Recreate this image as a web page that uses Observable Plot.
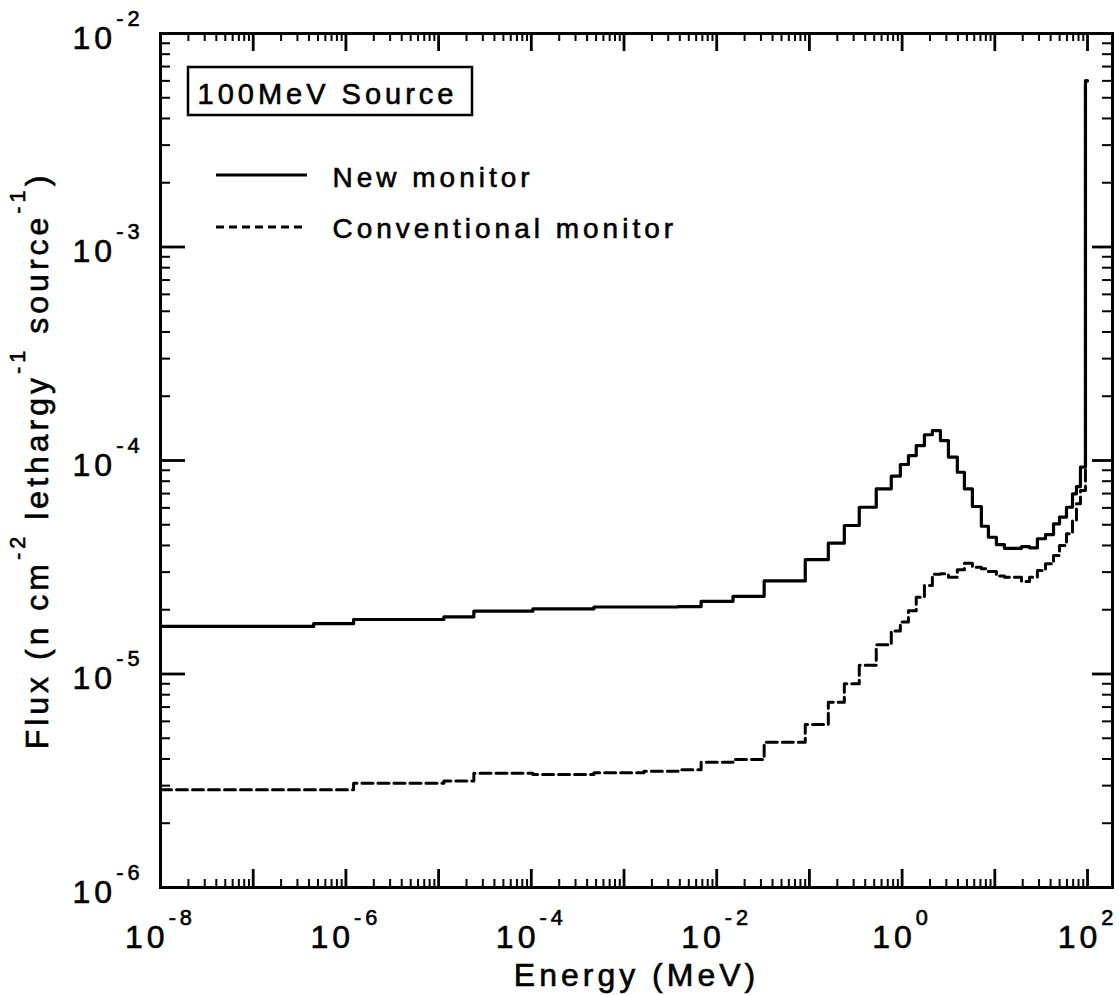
<!DOCTYPE html>
<html>
<head>
<meta charset="utf-8">
<script src="https://cdn.jsdelivr.net/npm/d3@7"></script>
<script src="https://cdn.jsdelivr.net/npm/@observablehq/plot@0.6"></script>
<style>
  body { margin: 0; background: #fff; }
  #chart svg text { letter-spacing: 4px; stroke: black; stroke-width: 0.6px; }
</style>
</head>
<body>
<div id="chart"></div>
<script>
// Energy group boundaries (MeV) shared by both spectra
const energyEdges = [1e-8, 4.49e-7, 1.21e-6, 1.14e-5, 2.40e-5, 1.04e-4, 4.74e-4, 1.64e-3, 3.83e-3, 6.79e-3,
  1.50e-2, 3.25e-2, 9.02e-2, 0.160, 0.238, 0.345, 0.526, 0.764, 0.957, 1.17,
  1.42, 1.74, 2.12, 2.59, 3.16, 3.94, 4.70, 5.73, 7.16, 8.53,
  10.4, 12.7, 19.4, 23.7, 28.8, 35.2, 43.0, 49.9, 59.3, 68.9,
  76.0, 83.9, 95.0, 100];

// Flux per group (n cm^-2 lethargy^-1 source^-1)
const newMonitor = [1.67e-5, 1.72e-5, 1.80e-5, 1.85e-5, 1.97e-5, 2.02e-5, 2.06e-5, 2.06e-5, 2.07e-5, 2.19e-5,
  2.31e-5, 2.73e-5, 3.43e-5, 4.10e-5, 4.96e-5, 6.04e-5, 7.37e-5, 8.45e-5, 9.58e-5, 1.055e-4,
  1.175e-4, 1.32e-4, 1.38e-4, 1.24e-4, 1.036e-4, 8.81e-5, 7.37e-5, 6.09e-5, 4.92e-5, 4.37e-5,
  4.04e-5, 3.88e-5, 3.95e-5, 3.90e-5, 4.30e-5, 4.50e-5, 5.05e-5, 5.43e-5, 6.04e-5, 6.98e-5,
  7.55e-5, 9.31e-5, 6.0e-3];

const conventionalMonitor = [2.87e-6, 2.87e-6, 3.08e-6, 3.15e-6, 3.43e-6, 3.38e-6, 3.45e-6, 3.50e-6, 3.56e-6, 3.86e-6,
  3.98e-6, 4.79e-6, 5.80e-6, 7.38e-6, 9.0e-6, 1.10e-5, 1.37e-5, 1.59e-5, 1.75e-5, 1.98e-5,
  2.29e-5, 2.60e-5, 2.93e-5, 2.95e-5, 2.84e-5, 3.08e-5, 3.30e-5, 3.16e-5, 3.11e-5, 3.02e-5,
  2.88e-5, 2.84e-5, 2.71e-5, 2.84e-5, 3.05e-5, 3.28e-5, 3.59e-5, 4.0e-5, 4.54e-5, 5.24e-5,
  6.27e-5, 7.24e-5, 6.0e-3];

const seriesNames = ["New monitor", "Conventional monitor"];
const sourceLabel = "100MeV Source";
const xTickExponents = [-8, -6, -4, -2, 0, 2];
const yTickExponents = [-6, -5, -4, -3, -2];
const xDecadeExponents = [-8, -7, -6, -5, -4, -3, -2, -1, 0, 1, 2];
const yDecadeExponents = [-6, -5, -4, -3, -2];
const xDomain = [1e-8, 186];
const yDomain = [1e-6, 1e-2];
const xTitle = "Energy (MeV)";
const yTitle = "Flux (n cm^{-2} lethargy^{-1} source^{-1})";

// ---- derived tables ----
function stepPoints(values) {
  const pts = values.map((v, i) => ({E: energyEdges[i], F: v}));
  pts.push({E: energyEdges[values.length], F: values[values.length - 1]});
  return pts;
}
const newPts = stepPoints(newMonitor);
const convPts = stepPoints(conventionalMonitor);
const xMajor = xDecadeExponents.map(e => 10 ** e).filter(v => v <= xDomain[1]);
const yMajor = yDecadeExponents.map(e => 10 ** e);
const xMinor = [];
xDecadeExponents.forEach(e => { for (let k = 2; k <= 9; k++) { const v = k * 10 ** e; if (v < xDomain[1]) xMinor.push(v); } });
const yMinor = [];
yDecadeExponents.slice(0, -1).forEach(e => { for (let k = 2; k <= 9; k++) yMinor.push(k * 10 ** e); });

const W = 1119, H = 995;
const mL = 160, mR = 7, mT = 33, mB = 108;
const fw = W - mL - mR, fh = H - mT - mB;
const majLenX = 18, minLenX = 8, majLenYL = 25, majLenYR = 20, minLenY = 10;
const font = "'Liberation Sans', Arial, Helvetica, sans-serif";

const chart = Plot.plot({
  width: W, height: H,
  marginLeft: mL, marginRight: mR, marginTop: mT, marginBottom: mB,
  x: {type: "log", domain: xDomain, axis: null},
  y: {type: "log", domain: yDomain, axis: null},
  style: {fontFamily: font, color: "black", background: "white", overflow: "visible"},
  marks: [
    // minor / major ticks, inside the frame on all four sides
    Plot.tickX(xMinor, {x: d => d, insetTop: fh - minLenX, stroke: "black", strokeWidth: 2}),
    Plot.tickX(xMinor, {x: d => d, insetBottom: fh - minLenX, stroke: "black", strokeWidth: 2}),
    Plot.tickX(xMajor, {x: d => d, insetTop: fh - majLenX, stroke: "black", strokeWidth: 2.8}),
    Plot.tickX(xMajor, {x: d => d, insetBottom: fh - majLenX, stroke: "black", strokeWidth: 2.8}),
    Plot.tickY(yMinor, {y: d => d, insetRight: fw - minLenY, stroke: "black", strokeWidth: 2}),
    Plot.tickY(yMinor, {y: d => d, insetLeft: fw - minLenY, stroke: "black", strokeWidth: 2}),
    Plot.tickY(yMajor, {y: d => d, insetRight: fw - majLenYL, stroke: "black", strokeWidth: 2.8}),
    Plot.tickY(yMajor, {y: d => d, insetLeft: fw - majLenYR, stroke: "black", strokeWidth: 2.8}),
    // data
    Plot.line(convPts, {x: "E", y: "F", curve: "step-after", stroke: "black", strokeWidth: 3, strokeDasharray: "11,5"}),
    Plot.line(newPts, {x: "E", y: "F", curve: "step-after", stroke: "black", strokeWidth: 3.2}),
    Plot.frame({stroke: "black", strokeWidth: 3}),
    // tick labels
    Plot.text(xTickExponents, {x: e => 10 ** e, frameAnchor: "bottom", dy: 50, text: e => `10^{${e}}`,
      fontSize: 32, textAnchor: "middle", lineAnchor: "middle", fill: "black"}),
    Plot.text(yTickExponents, {y: e => 10 ** e, frameAnchor: "left", dx: -17, dy: 5, text: e => `10^{${e}}`,
      fontSize: 32, textAnchor: "end", lineAnchor: "middle", fill: "black"}),
    // axis titles
    Plot.text([xTitle], {frameAnchor: "bottom", dy: 88, fontSize: 32, textAnchor: "middle", lineAnchor: "middle", fill: "black"}),
    Plot.text([yTitle], {frameAnchor: "left", dx: -123, rotate: -90, fontSize: 32, textAnchor: "middle", lineAnchor: "middle", fill: "black"}),
    // legend and source label
    Plot.text([sourceLabel], {frameAnchor: "top-left", dx: 37, dy: 61, fontSize: 29, textAnchor: "start", lineAnchor: "middle", fill: "black"}),
    Plot.text([seriesNames[0]], {frameAnchor: "top-left", dx: 172, dy: 145, fontSize: 28, textAnchor: "start", lineAnchor: "middle", fill: "black"}),
    Plot.text([seriesNames[1]], {frameAnchor: "top-left", dx: 172, dy: 196, fontSize: 28, textAnchor: "start", lineAnchor: "middle", fill: "black"})
  ]
});

document.getElementById("chart").appendChild(chart);

// legend box and sample lines
const svg = d3.select(chart);
const lg = svg.append("g").attr("fill", "none").attr("stroke", "black");
lg.append("rect").attr("x", 188).attr("y", 67).attr("width", 284).attr("height", 48).attr("stroke-width", 2.5);
lg.append("line").attr("x1", 216).attr("x2", 307).attr("y1", 175).attr("y2", 175).attr("stroke-width", 3);
lg.append("line").attr("x1", 216).attr("x2", 307).attr("y1", 227).attr("y2", 227).attr("stroke-width", 3).attr("stroke-dasharray", "8,5");

// superscript markup ^{...} -> tspans
function superscripts(root) {
  const ns = "http://www.w3.org/2000/svg";
  root.querySelectorAll("text").forEach(t => {
    const s = t.textContent;
    if (!s.includes("^{")) return;
    const fs = parseFloat(getComputedStyle(t).fontSize) || 32;
    const sup = fs * 0.68, raise = fs * 0.72;
    while (t.firstChild) t.removeChild(t.firstChild);
    const parts = s.split(/(\^\{[^}]*\})/).filter(p => p.length);
    let up = false;
    parts.forEach(p => {
      const ts = document.createElementNS(ns, "tspan");
      if (p.startsWith("^{")) {
        ts.textContent = p.slice(2, -1);
        ts.setAttribute("font-size", sup);
        if (!up) ts.setAttribute("dy", -raise);
        up = true;
      } else {
        ts.textContent = p;
        if (up) ts.setAttribute("dy", raise);
        up = false;
      }
      t.appendChild(ts);
    });
  });
}
superscripts(chart);
</script>
</body>
</html>
